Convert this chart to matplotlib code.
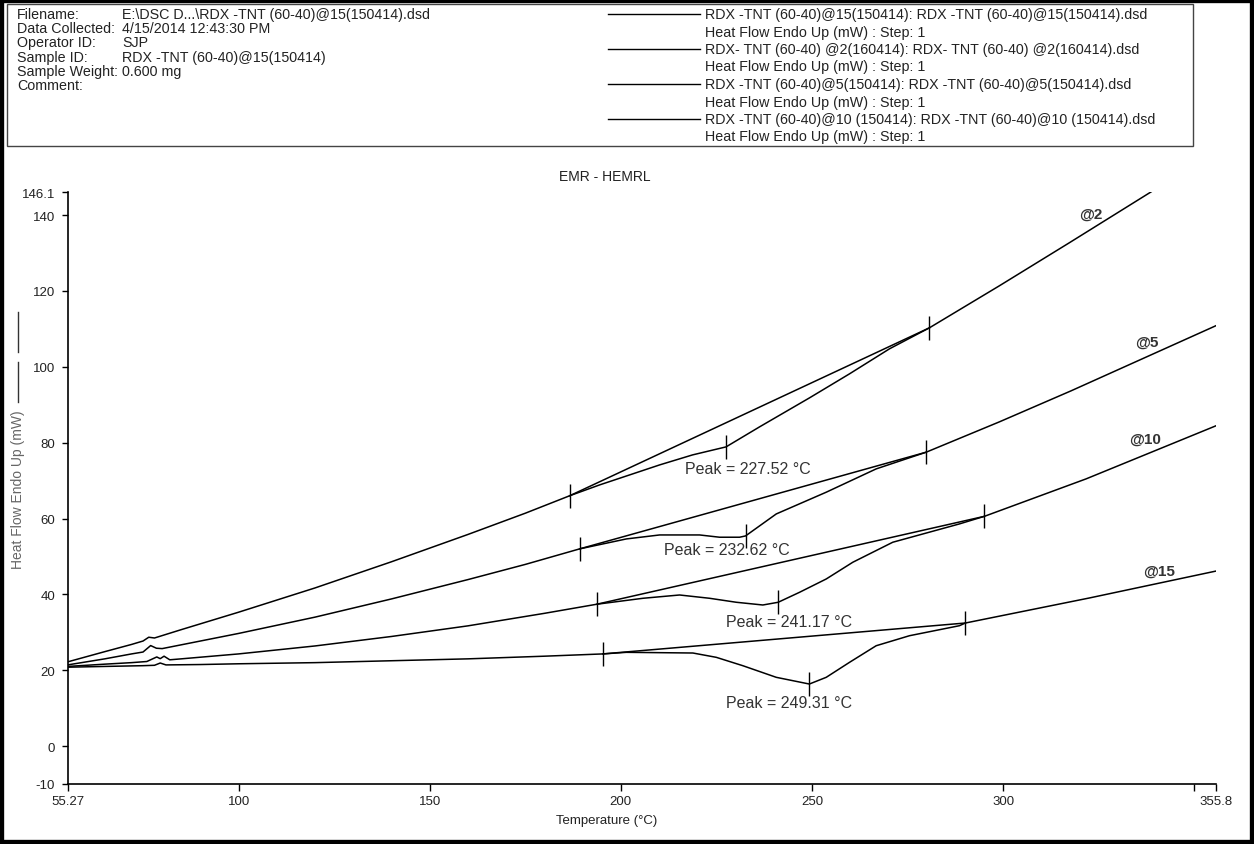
import matplotlib
matplotlib.use('Agg')
import matplotlib.pyplot as plt
from matplotlib.lines import Line2D
from matplotlib.patches import Rectangle

plt.rcParams['font.family'] = ['Liberation Sans', 'DejaVu Sans']

W, H = 1254, 845

# ---- DSC traces (temperature degC, heat flow mW) ----
t2 = [55.27, 65, 72, 75, 76.5, 78, 85, 100, 120, 140, 160, 175, 186.6,
      194.46, 202.3, 210.15, 218.77, 227.52, 236.29, 249.36, 259.82, 270.28,
      280.73, 299.03, 317.34, 338.77, 343.5]
h2 = [22.2, 24.9, 26.8, 27.7, 28.7, 28.5, 30.7, 35.3, 41.7, 48.6, 55.8, 61.4, 66.0,
      68.87, 71.50, 74.14, 76.78, 78.89, 84.17, 91.82, 98.15, 104.75,
      110.29, 121.37, 132.72, 146.17, 149.3]

t5 = [55.27, 65, 72, 75, 77, 78.5, 80, 90, 100, 120, 140, 160, 175, 189.23,
      201.44, 210.15, 220.60, 225.83, 231.06, 232.62, 240.66, 253.73, 266.80,
      279.87, 299.03, 317.78, 355.8]
h5 = [21.4, 23.0, 24.3, 24.8, 26.5, 25.8, 25.7, 27.7, 29.7, 34.0, 38.8, 43.9, 47.9, 52.0,
      54.62, 55.67, 55.67, 55.07, 55.07, 55.41, 61.21, 66.94, 73.09,
      77.49, 85.49, 93.67, 110.9]

t10 = [55.27, 65, 72, 76, 78.6, 79.5, 80.5, 82, 85, 100, 120, 140, 160, 180, 193.7,
       205.78, 215.37, 223.22, 230.2, 237.15, 241.17, 246.75, 253.73, 260.68,
       271.14, 288.58, 295.11, 321.7, 355.8]
h10 = [21.0, 21.6, 22.0, 22.3, 23.5, 23.05, 23.7, 22.75, 23.0, 24.3, 26.4, 28.9, 31.7, 35.0, 37.4,
       38.97, 39.84, 38.97, 37.92, 37.20, 37.92, 40.55, 44.06, 48.47,
       53.75, 58.58, 60.58, 70.45, 84.5]

t15 = [55.27, 65, 75, 78, 79.5, 81, 90, 100, 120, 140, 160, 180, 195.3,
       201.44, 218.85, 224.97, 231.92, 240.66, 249.31, 253.73, 259.82, 266.80,
       275.51, 288.58, 290.14, 322.56, 355.8]
h15 = [20.8, 21.0, 21.2, 21.3, 21.9, 21.4, 21.5, 21.7, 22.0, 22.5, 23.0, 23.7, 24.3,
       24.72, 24.54, 23.40, 21.19, 18.13, 16.36, 18.13, 22.08, 26.46,
       29.10, 31.74, 32.45, 39.05, 46.17]

# peak baselines (limits) and peaks
lim_t = [[186.6, 280.73], [189.23, 279.87], [193.7, 295.11], [195.3, 290.14]]
lim_h = [[66.0, 110.29], [52.0, 77.49], [37.4, 60.58], [24.3, 32.45]]
peak_t = [227.52, 232.62, 241.17, 249.31]
peak_h = [78.89, 55.41, 37.92, 16.36]
peak_off = [(22, -22), (-19, -14), (11, -19), (-20, -18)]   # label offsets, px

rates = ['@2', '@5', '@10', '@15']
rate_x = [323.0, 337.7, 337.2, 340.9]
rate_y = [140.5, 106.6, 81.1, 46.2]

xticks = [55.27, 100, 150, 200, 250, 300, 350, 355.8]
xlabels = ['55.27', '100', '150', '200', '250', '300', '', '355.8']
yticks = [-10, 0, 20, 40, 60, 80, 100, 120, 140, 146.1]
ylabels = ['-10', '0', '20', '40', '60', '80', '100', '120', '140', '146.1']

info_keys = ['Filename:', 'Data Collected:', 'Operator ID:', 'Sample ID:',
             'Sample Weight:', 'Comment:']
info_vals = [r'E:\DSC D...\RDX -TNT (60-40)@15(150414).dsd', '4/15/2014 12:43:30 PM',
             'SJP', 'RDX -TNT (60-40)@15(150414)', '0.600 mg', '']
legend_rows = ['RDX -TNT (60-40)@15(150414): RDX -TNT (60-40)@15(150414).dsd',
               'RDX- TNT (60-40) @2(160414): RDX- TNT (60-40) @2(160414).dsd',
               'RDX -TNT (60-40)@5(150414): RDX -TNT (60-40)@5(150414).dsd',
               'RDX -TNT (60-40)@10 (150414): RDX -TNT (60-40)@10 (150414).dsd']
legend_sub = 'Heat Flow Endo Up (mW) : Step: 1'


def fx(px):
    return px / W


def fy(py):
    return 1 - py / H


txt = '#222222'
fig = plt.figure(figsize=(W / 100, H / 100), dpi=100)
ax = fig.add_axes([fx(67.6), fy(785), fx(1216.4) - fx(67.6), fy(193) - fy(785)])

for t, h in [(t2, h2), (t5, h5), (t10, h10), (t15, h15)]:
    ax.plot(t, h, color='black', lw=1.1)
for i in range(4):
    ax.plot(lim_t[i], lim_h[i], color='black', lw=1.1)
    ax.plot(lim_t[i] + [peak_t[i]], lim_h[i] + [peak_h[i]], ls='none',
            marker='|', ms=17, mew=1.0, color='black')
    ax.annotate('Peak = %.2f °C' % peak_t[i], (peak_t[i], peak_h[i]),
                xytext=peak_off[i], textcoords='offset pixels',
                ha='center', va='center', fontsize=11.5, color='#333333')
    ax.text(rate_x[i], rate_y[i], rates[i], ha='center', va='center',
            fontsize=11, fontweight='bold', color='#333333')

ax.set_xlim(55.27, 355.8)
ax.set_ylim(-10, 146.1)
ax.set_xticks(xticks)
ax.set_xticklabels(xlabels)
ax.set_yticks(yticks)
ax.set_yticklabels(ylabels)
for s in ['top', 'right']:
    ax.spines[s].set_visible(False)
for s in ['left', 'bottom']:
    ax.spines[s].set_linewidth(1.2)
ax.tick_params(axis='x', direction='out', length=5, width=1, pad=3,
               labelsize=9.5, labelcolor=txt)
ax.tick_params(axis='y', direction='out', length=4, width=1, pad=5,
               labelsize=9.5, labelcolor=txt)

fig.text(fx(607), fy(821), 'Temperature (°C)', ha='center', va='center',
         fontsize=9.5, color=txt)
fig.text(fx(605), fy(177), 'EMR - HEMRL', ha='center', va='center',
         fontsize=10, color=txt)
fig.text(fx(18), fy(490), 'Heat Flow Endo Up (mW)', rotation=90,
         ha='center', va='center', fontsize=10, color='#666666')
for y0, y1 in [(313, 353), (363, 403)]:
    fig.add_artist(Line2D([fx(18), fx(18)], [fy(y0), fy(y1)], color='#333333', lw=1.0))

# header box
fig.add_artist(Rectangle((fx(7), fy(147)), fx(1193) - fx(7), fy(5) - fy(147),
                         fill=False, ec='#444444', lw=1.0))
for i in range(len(info_keys)):
    y = fy(15 + i * 14.2)
    fig.text(fx(17), y, info_keys[i], ha='left', va='center', fontsize=10.3, color=txt)
    fig.text(fx(122), y, info_vals[i], ha='left', va='center', fontsize=10.3, color=txt)
for i in range(len(legend_rows)):
    y = 15 + i * 35
    fig.add_artist(Line2D([fx(608), fx(700)], [fy(y), fy(y)], color='black', lw=1.0))
    fig.text(fx(705), fy(y), legend_rows[i], ha='left', va='center', fontsize=10.3, color=txt)
    fig.text(fx(705), fy(y + 17.5), legend_sub, ha='left', va='center', fontsize=10.3, color=txt)

# outer frame
fig.add_artist(Rectangle((0, 0), 1, 1, transform=fig.transFigure, fill=False,
                         ec='black', lw=6))

fig.savefig('out.png', dpi=100)
